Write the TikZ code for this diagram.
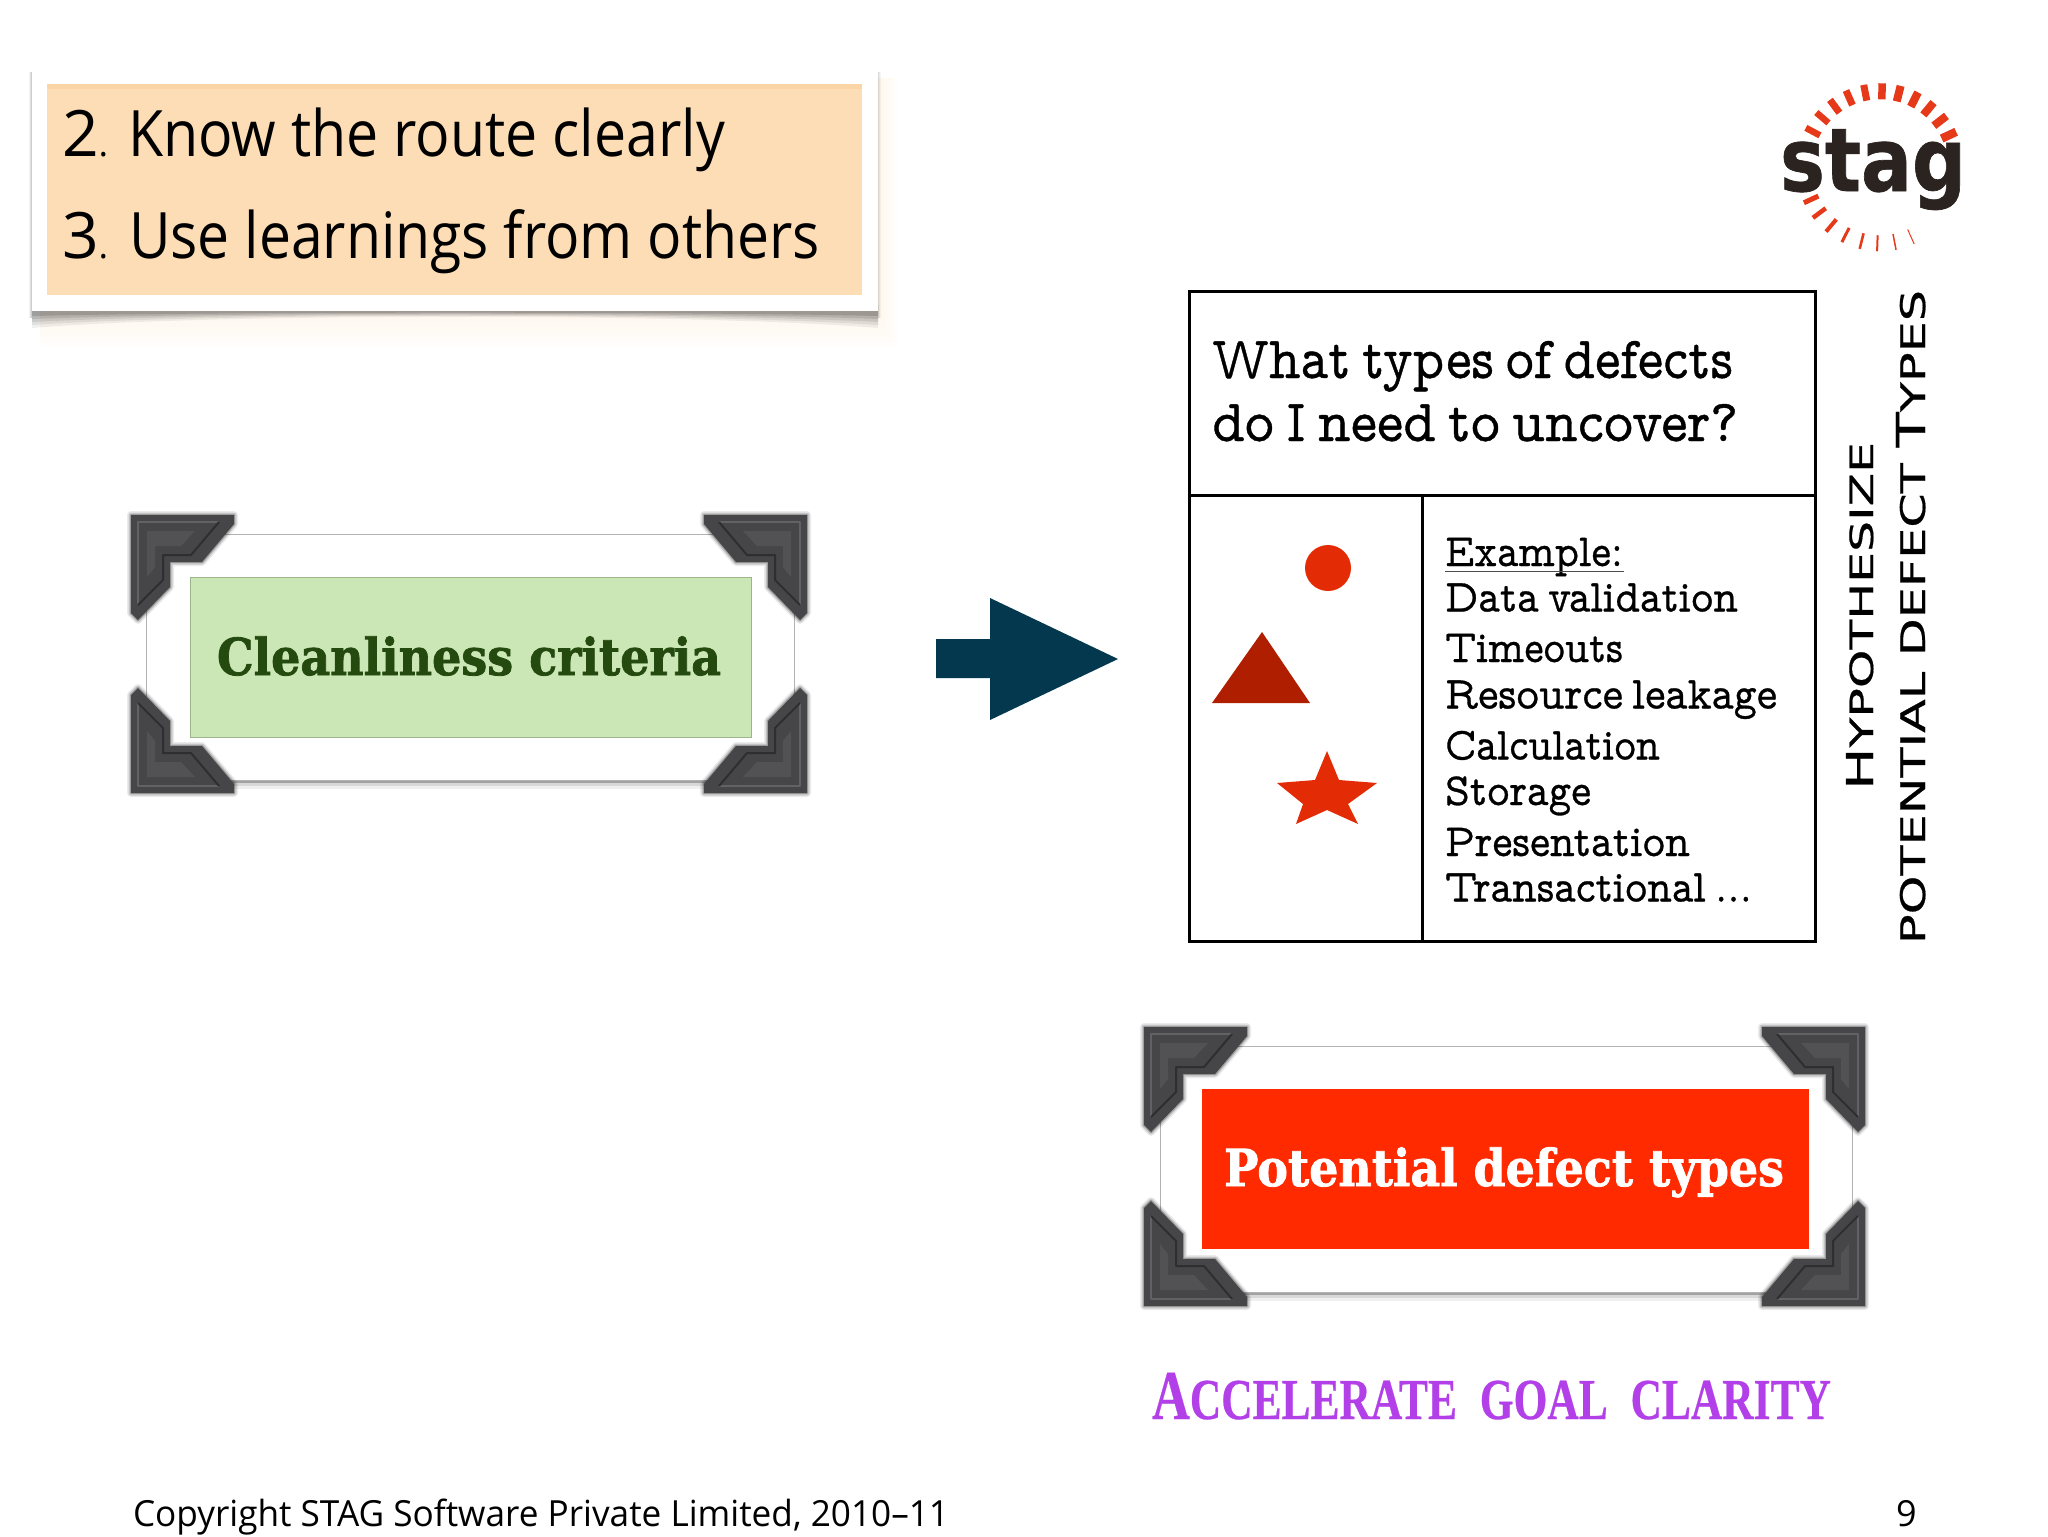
\documentclass[tikz,border=0pt]{standalone}
\usetikzlibrary{calc}
\usepackage{fontspec}
\setmainfont{Open Sans}
\newfontfamily\typew{lmmonoprop10-regular.otf}[FakeBold=0.7,WordSpace=0.62]
\newfontfamily\typeb{DejaVu Serif Bold}[FakeBold=1.6]
\newfontfamily\acc{Liberation Serif Bold}[FakeBold=0.5]
\newfontfamily\ext{DejaVu Sans}[FakeBold=0.5]
\newfontfamily\logo{DejaVu Sans Bold}[FakeBold=0.8]
\newfontfamily\foot{Open Sans}
\newcommand\fitw[2]{\resizebox{\dimexpr#1pt/2\relax}{\height}{#2}}
\newcommand\fsz[1]{\fontsize{#1pt}{#1pt}\selectfont}
\definecolor{notebg}{HTML}{FDDDB6}
\definecolor{noteedge}{HTML}{FBD5A6}
\definecolor{noteglow}{HTML}{F6C88F}
\definecolor{cgreen}{HTML}{CBE7B5}
\definecolor{cgreenb}{HTML}{9DB58A}
\definecolor{tgreen}{HTML}{254A10}
\definecolor{cred}{HTML}{FF2A00}
\definecolor{navyc}{HTML}{03384F}
\definecolor{shapered}{HTML}{E32C05}
\definecolor{shapedark}{HTML}{B01E00}
\definecolor{violetc}{HTML}{B23FE8}
\definecolor{stagd}{HTML}{2A2320}
\definecolor{stagr}{HTML}{E5391A}
\definecolor{cdark}{HTML}{464648}
\definecolor{clight}{HTML}{626264}
\definecolor{cdeep}{HTML}{2E2E30}
\tikzset{
  txt/.style={inner sep=0pt,outer sep=0pt,anchor=base west,align=left},
  lst/.style={txt,font=\typew\fsz{23}},
  hd/.style={txt,font=\typew\fsz{30}},
  tbl/.style={draw=black,line width=1.5pt,fill=none},
  cardframe/.style={draw=black!30,line width=.6pt,fill=white},
  logotick/.style={draw=stagr,line cap=butt},
}
\newcommand\cornerpiece[4]{%
  \begin{scope}[shift={(#1,#2)},xscale=#3,yscale=#4]
    \foreach \w/\o in {4/.08,2.5/.14,1.2/.22}{
      \draw[black,opacity=\o,line width=\w pt,line join=round]
        (0,0)--(103,0)--(103,9)--(71,47)--(39,47)--(39,72)--(7,105)--(0,98)--cycle;}
    \fill[cdark] (0,0)--(103,0)--(103,9)--(71,47)--(39,47)--(39,72)--(7,105)--(0,98)--cycle;
    \draw[clight,line width=1pt,line join=round] (7,90)--(7,7)--(88,7);
    \draw[cdeep,line width=1pt,line join=round] (88,7)--(60,40)--(32,40)--(32,65)--(7,90);
    \fill[clight,opacity=.45] (16,62)--(16,16)--(64,16)--(50,31)--(24,31)--(24,52)--cycle;
  \end{scope}}
\newcommand\cornerset[4]{%
  \cornerpiece{#1}{#2}{1}{1}\cornerpiece{#3}{#2}{-1}{1}%
  \cornerpiece{#1}{#4}{1}{-1}\cornerpiece{#3}{#4}{-1}{-1}}
\begin{document}
\begin{tikzpicture}[x=0.5pt,y=-0.5pt]
\useasboundingbox (0,0) rectangle (2048,1536);
% note: glow and curved shadow
\foreach \g in {4,8,12,16,20,24,28}{
  \fill[noteglow,opacity=.022] (40,78) rectangle (878+\g*.7,311+\g*1.3);}
\foreach \d/\o in {17/.06,14/.07,11/.09,8/.11,5/.13}{
  \fill[black,opacity=\o] (32,305) -- (878,305) -- (878,311+\d)
     .. controls (700,311+\d*.12) and (210,311+\d*.12) .. (32,311+\d) -- cycle;}
\foreach \d/\o in {3/.05,2/.07,1/.09}{
  \fill[black,opacity=\o] (32-\d,72) rectangle (32,318);
  \fill[black,opacity=\o*.7] (878,72) rectangle (878+\d,318);}
\node[fill=white,draw=none,minimum width=423pt,minimum height=121.5pt,inner sep=0pt,anchor=north west] (notepaper) at (32,68) {};
\node[fill=notebg,minimum width=407.5pt,minimum height=105.5pt,inner sep=0pt,anchor=north west] (note) at (47,84) {};
\fill[noteedge] (47,84) rectangle (862,89);
\node[txt,font=\fsz{32}] (n2) at (62,156) {2\fsz{18}.};
\node[txt,font=\fsz{32}] (t2) at (128,156) {\fitw{597}{Know the route clearly}};
\node[txt,font=\fsz{32}] (n3) at (62,258) {3\fsz{18}.};
\node[txt,font=\fsz{32}] (t3) at (129,258) {\fitw{691}{Use learnings from others}};
% logo
\foreach \a/\w in {152/6.5,139.3/6.5,126.6/7,113.9/7,101.2/7,88.5/7.5,75.8/8,63.1/8,50.4/8,37.7/8,25/8.5}{
  \draw[logotick,line width=\w*0.5pt] ($(1880,167.3)+(\a:68 and -68)$) -- ($(1880,167.3)+(\a:84 and -84)$);}
\foreach \a/\w in {205/5,217/4.5,230/4,243/3,256/2.5,268/2,281/1.5,294/1}{
  \draw[logotick,line width=\w*0.5pt] ($(1880,167.3)+(\a:68 and -68)$) -- ($(1880,167.3)+(\a:84 and -84)$);}
\node[txt,font=\logo\fsz{44},text=stagd] (stag) at (1780,191) {\fitw{186}{stag}};
% green card
\foreach \d/\o in {9/.06,6/.10,3/.25}{\fill[black,opacity=\o] (146,780) rectangle (794,780+\d);}
\node[cardframe,minimum width=324pt,minimum height=123pt,inner sep=0pt,anchor=north west] (cardA) at (146,534) {};
\node[fill=cgreen,draw=cgreenb,line width=.7pt,minimum width=280.5pt,minimum height=80pt,inner sep=0pt,anchor=north west] (cleanbox) at (190,577) {};
\node[txt,font=\typeb\fsz{25.5},text=tgreen] (clean) at (217,675) {\fitw{504}{Cleanliness criteria}};
\cornerset{131}{515}{807}{793}
% arrow
\fill[navyc] (936,639)--(990,639)--(990,598)--(1118,659)--(990,720)--(990,678)--(936,678)--cycle;
% table
\draw[tbl] (1189,291) rectangle (1815,941);
\draw[tbl] (1189,495) -- (1815,495);
\draw[tbl] (1422,495) -- (1422,941);
\node[hd] (q1) at (1212,378) {\fitw{521}{What types of defects}};
\node[hd] (q2) at (1212,441) {\fitw{526}{do I need to uncover?}};
\node[lst] (l0) at (1445,566) {\fitw{178}{Example:}};
\draw[black!70,line width=.5pt] (1445,571) -- (1624,571);
\node[lst] (l1) at (1445,611.5) {\fitw{293}{Data validation}};
\node[lst] (l2) at (1445,662) {\fitw{178}{Timeouts}};
\node[lst] (l3) at (1445,708.5) {\fitw{332}{Resource leakage}};
\node[lst] (l4) at (1445,759.5) {\fitw{215}{Calculation}};
\node[lst] (l5) at (1445,805) {\fitw{146}{Storage}};
\node[lst] (l6) at (1445,856) {\fitw{245}{Presentation}};
\node[lst] (l7) at (1445,901.5) {\fitw{307}{Transactional ...}};
\fill[shapered] (1328,568) circle (23);
\fill[shapedark] (1262,632)--(1310,703)--(1212,703)--cycle;
\fill[shapered] (1327,751)--(1339,780)--(1377,783)--(1348,804)--(1358,824)--(1327,810)--(1296,824)--(1303,804)--(1277,783)--(1315,780)--cycle;
% vertical labels
\node[txt,rotate=90,font=\ext,text=black] (hyp) at (1873,790) {\fitw{348}{\fsz{18.5}H\fsz{16}YPOTHESIZE}};
\node[txt,rotate=90,font=\ext,text=black] (pot) at (1925,944) {\fitw{654}{\fsz{17}POTENTIAL DEFECT \fsz{20}T\fsz{17}YPES}};
% red card
\foreach \d/\o in {9/.06,6/.10,3/.25}{\fill[black,opacity=\o] (1160,1292) rectangle (1852,1292+\d);}
\node[cardframe,minimum width=346pt,minimum height=123pt,inner sep=0pt,anchor=north west] (cardB) at (1160,1046) {};
\node[fill=cred,minimum width=303.5pt,minimum height=80pt,inner sep=0pt,anchor=north west] (redbox) at (1202,1089) {};
\node[txt,font=\typeb\fsz{25.5},text=white] (pdt) at (1224,1186) {\fitw{560}{Potential defect types}};
\cornerset{1144}{1027}{1865}{1306}
% tagline
\node[txt,font=\acc,text=violetc] (tag) at (1152,1419) {\fitw{679}{\fsz{35}A\fsz{29}CCELERATE\hspace{8pt} GOAL\hspace{8pt} CLARITY}};
% footer
\node[txt,font=\foot\fsz{18}] (copy) at (133,1526) {\fitw{816}{Copyright STAG Software Private Limited, 2010–11}};
\node[txt,font=\foot\fsz{18}] (page) at (1896,1526) {9};
\end{tikzpicture}
\end{document}
